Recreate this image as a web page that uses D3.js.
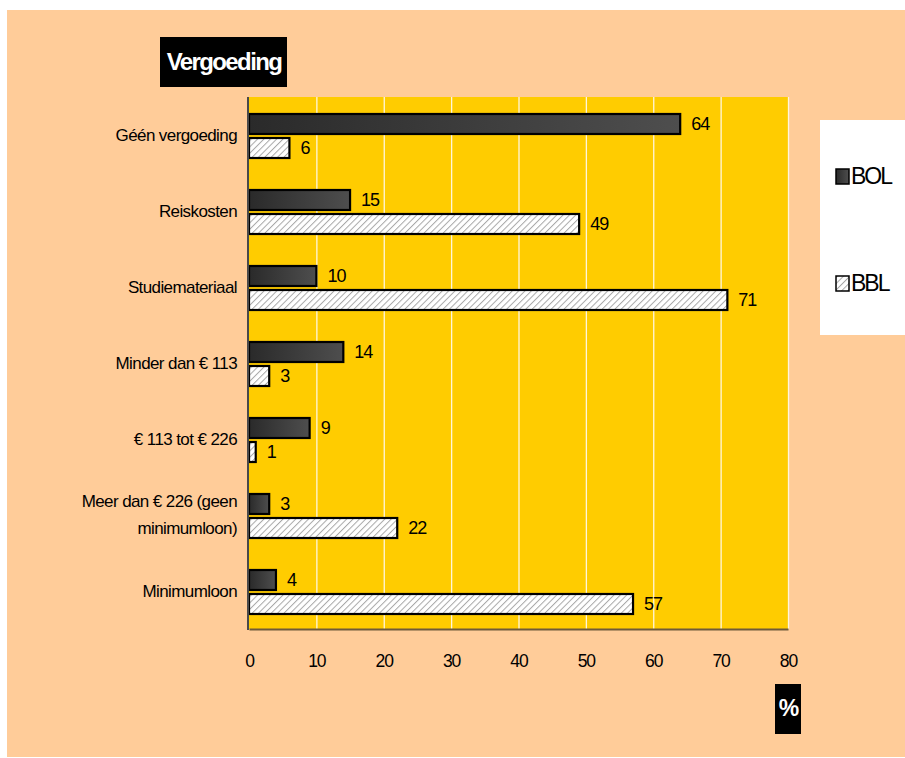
<!DOCTYPE html>
<html>
<head>
<meta charset="utf-8">
<script src="https://cdn.jsdelivr.net/npm/d3@7"></script>
<style>
  html, body { margin: 0; padding: 0; background: #ffffff; }
  svg { display: block; }
  text { font-family: "Liberation Sans", Arial, sans-serif; }
</style>
</head>
<body>
<svg id="chart" width="905" height="758"></svg>
<script>
// Vergoeding per leerweg (percentages)
const categories = [
  ["Géén vergoeding"],
  ["Reiskosten"],
  ["Studiemateriaal"],
  ["Minder dan € 113"],
  ["€ 113 tot € 226"],
  ["Meer dan € 226 (geen", "minimumloon)"],
  ["Minimumloon"]
];
const seriesNames = ["BOL", "BBL"];
const bolValues = [64, 15, 10, 14, 9, 3, 4];
const bblValues = [6, 49, 71, 3, 1, 22, 57];
const xTicks = [0, 10, 20, 30, 40, 50, 60, 70, 80];

const svg = d3.select("#chart");
const W = 905, H = 758;

// page background
svg.append("rect").attr("width", W).attr("height", H).attr("fill", "#ffffff");
svg.append("rect").attr("x", 7).attr("y", 10).attr("width", W - 7).attr("height", H - 11)
  .attr("fill", "#FFCC99");

const defs = svg.append("defs");
const grad = defs.append("linearGradient").attr("id", "bolGrad")
  .attr("x1", "0%").attr("x2", "100%").attr("y1", "0%").attr("y2", "0%");
grad.append("stop").attr("offset", "0%").attr("stop-color", "#2a2a2a");
grad.append("stop").attr("offset", "100%").attr("stop-color", "#4e4e4e");

const hatch = defs.append("pattern").attr("id", "bblHatch")
  .attr("patternUnits", "userSpaceOnUse").attr("width", 4.5).attr("height", 4.5)
  .attr("patternTransform", "rotate(45)");
hatch.append("rect").attr("width", 4.5).attr("height", 4.5).attr("fill", "#ffffff");
hatch.append("line").attr("x1", 0).attr("y1", 0).attr("x2", 0).attr("y2", 4.5)
  .attr("stroke", "#a8a8a8").attr("stroke-width", 2);

const plot = { left: 249, right: 788, top: 97, bottom: 629 };

const x = d3.scaleLinear().domain([0, 80]).range([plot.left, plot.right]);
const y = d3.scaleBand().domain(d3.range(categories.length))
  .range([plot.top, plot.bottom]).paddingInner(0).paddingOuter(0);

// plot area
svg.append("rect").attr("x", plot.left).attr("y", plot.top)
  .attr("width", plot.right - plot.left).attr("height", plot.bottom - plot.top)
  .attr("fill", "#FFCC00");

// vertical gridlines
svg.append("g").selectAll("line").data(xTicks.slice(1)).join("line")
  .attr("x1", d => x(d) + 0.5).attr("x2", d => x(d) + 0.5)
  .attr("y1", plot.top).attr("y2", plot.bottom)
  .attr("stroke", "#fff6dc").attr("stroke-width", 1.3);

// bars
const barH = 20, gap = 4;
const groups = svg.append("g").selectAll("g").data(categories).join("g")
  .attr("transform", (d, i) => `translate(0,${y(i) + y.bandwidth() / 2})`);

groups.append("rect")
  .attr("x", x(0))
  .attr("y", -barH - gap / 2 + 1)
  .attr("width", (d, i) => x(bolValues[i]) - x(0))
  .attr("height", barH)
  .attr("fill", "url(#bolGrad)")
  .attr("stroke", "#000").attr("stroke-width", 2.2);

groups.append("rect")
  .attr("x", x(0))
  .attr("y", gap / 2 + 1)
  .attr("width", (d, i) => x(bblValues[i]) - x(0))
  .attr("height", barH)
  .attr("fill", "url(#bblHatch)")
  .attr("stroke", "#000").attr("stroke-width", 2.2);

// value labels
groups.append("text")
  .attr("x", (d, i) => x(bolValues[i]) + 11)
  .attr("y", -barH / 2 - gap / 2 + 1)
  .attr("dy", "0.35em")
  .attr("font-size", 18).attr("letter-spacing", -1).attr("fill", "#000")
  .text((d, i) => bolValues[i]);

groups.append("text")
  .attr("x", (d, i) => x(bblValues[i]) + 11)
  .attr("y", barH / 2 + gap / 2 + 1)
  .attr("dy", "0.35em")
  .attr("font-size", 18).attr("letter-spacing", -1).attr("fill", "#000")
  .text((d, i) => bblValues[i]);

// category labels
groups.each(function (lines) {
  const t = d3.select(this).append("text")
    .attr("text-anchor", "end").attr("x", 237)
    .attr("font-size", 17).attr("letter-spacing", -0.6).attr("fill", "#000");
  const lh = 27;
  lines.forEach((ln, k) => {
    t.append("tspan").attr("x", 237)
      .attr("y", (k - (lines.length - 1) / 2) * lh)
      .attr("dy", "0.35em").text(ln);
  });
});

// axes
const xAxis = d3.axisBottom(x).tickValues(xTicks).tickSize(0).tickPadding(0);
const gx = svg.append("g").attr("transform", `translate(0,${plot.bottom})`).call(xAxis);
gx.select(".domain").attr("stroke", "#6e5a3a").attr("stroke-width", 2);
gx.selectAll("text").attr("y", 32).attr("dy", "0.35em")
  .attr("font-size", 17.5).attr("letter-spacing", -1)
  .attr("font-family", "'Liberation Sans', Arial, sans-serif").attr("fill", "#000");

svg.append("line").attr("x1", plot.left - 1).attr("x2", plot.left - 1)
  .attr("y1", plot.top).attr("y2", plot.bottom + 1)
  .attr("stroke", "#4a4a4a").attr("stroke-width", 2);

// title box
svg.append("rect").attr("x", 160).attr("y", 37).attr("width", 127).attr("height", 50).attr("fill", "#000");
svg.append("text").attr("x", 224).attr("y", 62).attr("dy", "0.35em")
  .attr("text-anchor", "middle").attr("font-size", 24).attr("font-weight", "bold")
  .attr("letter-spacing", -1.6).attr("fill", "#fff").text("Vergoeding");

// axis unit box
svg.append("rect").attr("x", 775).attr("y", 684).attr("width", 26).attr("height", 50).attr("fill", "#000");
svg.append("text").attr("x", 789).attr("y", 708).attr("dy", "0.35em")
  .attr("text-anchor", "middle").attr("font-size", 23).attr("font-weight", "bold")
  .attr("fill", "#fff").text("%");

// legend
svg.append("rect").attr("x", 820).attr("y", 120).attr("width", 85).attr("height", 215).attr("fill", "#fff");
const legY = [176, 283];
const leg = svg.append("g").selectAll("g").data(seriesNames).join("g")
  .attr("transform", (d, i) => `translate(836,${legY[i]})`);
leg.append("rect").attr("x", 0).attr("y", -7).attr("width", 13).attr("height", 15)
  .attr("fill", (d, i) => i === 0 ? "url(#bolGrad)" : "url(#bblHatch)")
  .attr("stroke", "#000").attr("stroke-width", 1.5);
leg.append("text").attr("x", 15).attr("y", 0).attr("dy", "0.35em")
  .attr("font-size", 23).attr("letter-spacing", -2).attr("fill", "#000")
  .text(d => d);
</script>
</body>
</html>
